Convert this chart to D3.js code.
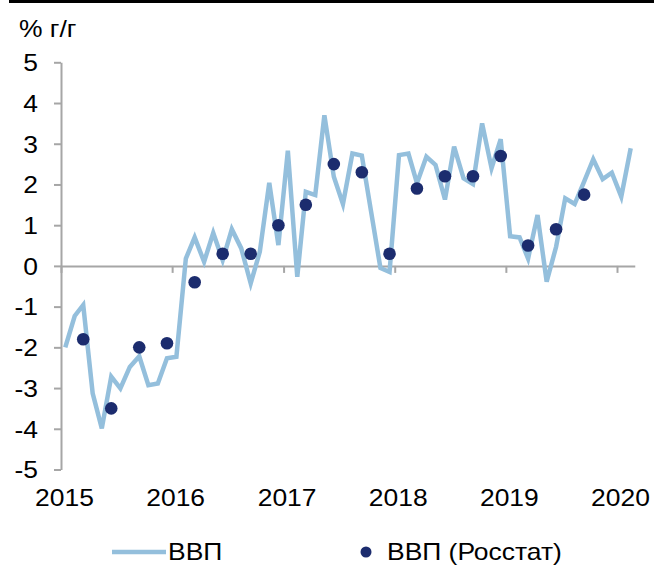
<!DOCTYPE html>
<html>
<head>
<meta charset="utf-8">
<script src="https://cdn.jsdelivr.net/npm/d3@7"></script>
<style>
  body { margin: 0; background: #fff; }
  svg text { font-family: "Liberation Sans", Arial, sans-serif; fill: #000; font-size: 23px; }
</style>
</head>
<body>
<div id="chart"></div>
<script>
// monthly GDP estimate, Jan 2015 .. Feb 2020
var gdpMonthly = [
  -2.0, -1.23, -0.96, -3.13, -3.99, -2.72, -3.01, -2.48, -2.22, -2.93, -2.89, -2.27,
  -2.23, 0.18, 0.70, 0.10, 0.81, 0.14, 0.90, 0.43, -0.43, 0.35, 2.04, 0.51,
  2.83, -0.27, 1.82, 1.74, 3.70, 2.19, 1.52, 2.76, 2.71, 1.35, -0.05, -0.15,
  2.72, 2.76, 2.03, 2.68, 2.48, 1.63, 2.93, 2.15, 2.01, 3.50, 2.40, 3.11,
  0.73, 0.70, 0.18, 1.25, -0.39, 0.47, 1.66, 1.52, 2.07, 2.62, 2.13, 2.29,
  1.70, 2.89
];
// quarterly Rosstat GDP, Q1 2015 .. Q3 2019
var gdpRosstat = [
  -1.8, -3.5, -2.0, -1.9,
  -0.4, 0.3, 0.3, 1.0,
  1.5, 2.5, 2.3, 0.3,
  1.9, 2.2, 2.2, 2.7,
  0.5, 0.9, 1.75
];
var yearTicks = [2015, 2016, 2017, 2018, 2019, 2020];
var yTicks = [-5, -4, -3, -2, -1, 0, 1, 2, 3, 4, 5];
var seriesNames = ["ВВП", "ВВП (Росстат)"];

var width = 654, height = 568;
var lineColor = "#94bfdc", dotColor = "#1c2c6e", axisColor = "#a6a6a6";
var textStretch = 1.15; // the source text is a bit wider than plain Arial

var svg = d3.select("#chart").append("svg")
    .attr("width", width)
    .attr("height", height);

// widen text around its own anchor point
function stretch(sel) {
  sel.each(function() {
    var t = d3.select(this);
    var tx = +t.attr("x") || 0;
    t.attr("x", 0)
     .attr("transform", "translate(" + tx + ",0) scale(" + textStretch + ",1)");
  });
}

// scales
var x = d3.scaleTime()
    .domain([new Date(2015, 0, 1), new Date(2020, 0, 1)])
    .range([61, 617]);
var y = d3.scaleLinear()
    .domain([-5, 5])
    .range([469.5, 62.3]);

// top black rule
svg.append("rect")
    .attr("x", 9).attr("y", 0)
    .attr("width", width - 9).attr("height", 3)
    .attr("fill", "#000");

// unit label
svg.append("text")
    .attr("x", 19).attr("y", 37)
    .text("% г/г")
    .call(stretch);

// y axis
var yAxis = svg.append("g")
    .attr("transform", "translate(" + x.range()[0] + ",0)")
    .call(d3.axisLeft(y)
      .tickValues(yTicks)
      .tickSize(7)
      .tickPadding(16)
      .tickSizeOuter(0)
      .tickFormat(function(d) { return d < 0 ? "-" + Math.abs(d) : d; }));
yAxis.selectAll("text").attr("font-size", null).attr("dy", "0.36em").call(stretch);

// x axis along zero line, ticks only
var xAxis = svg.append("g")
    .attr("transform", "translate(0," + y(0) + ")")
    .call(d3.axisBottom(x)
      .tickValues(yearTicks.map(function(d) { return new Date(d, 0, 1); }))
      .tickSize(7)
      .tickSizeOuter(0)
      .tickFormat(""));
xAxis.select(".domain").remove();
xAxis.append("line")
    .attr("x1", x.range()[0]).attr("x2", x(new Date(2020, 2, 1)))
    .attr("y1", 0.5).attr("y2", 0.5)
    .attr("stroke", axisColor).attr("stroke-width", 2);

// year labels at the bottom
var xLabels = svg.append("g")
    .attr("transform", "translate(3,490)")
    .call(d3.axisBottom(x)
      .tickValues(yearTicks.map(function(d) { return new Date(d, 0, 1); }))
      .tickSize(0)
      .tickPadding(0)
      .tickFormat(d3.timeFormat("%Y")));
xLabels.select(".domain").remove();
xLabels.selectAll("text").attr("dy", "0.71em").call(stretch);

svg.selectAll("g").attr("font-size", null).attr("font-family", null);
svg.selectAll(".tick line").attr("stroke", axisColor).attr("stroke-width", 2);
yAxis.select(".domain").attr("stroke", axisColor).attr("stroke-width", 2);

// monthly line
var monthly = gdpMonthly.map(function(v, i) {
  return { date: new Date(2015, i, 15), value: v };
});
var line = d3.line()
    .x(function(d) { return x(d.date); })
    .y(function(d) { return y(d.value); });

svg.append("path")
    .datum(monthly)
    .attr("fill", "none")
    .attr("stroke", lineColor)
    .attr("stroke-width", 4.5)
    .attr("stroke-linejoin", "miter")
    .attr("d", line);

// quarterly dots (placed at the last month of each quarter)
var quarterly = gdpRosstat.map(function(v, i) {
  return { date: new Date(2015, i * 3 + 2, 15), value: v };
});
svg.selectAll("circle.q")
    .data(quarterly)
    .enter().append("circle")
    .attr("class", "q")
    .attr("cx", function(d) { return x(d.date); })
    .attr("cy", function(d) { return y(d.value); })
    .attr("r", 6.3)
    .attr("fill", dotColor);

// legend
var legend = svg.append("g").attr("transform", "translate(0,552)");
legend.append("line")
    .attr("x1", 112).attr("x2", 166)
    .attr("y1", 0).attr("y2", 0)
    .attr("stroke", lineColor).attr("stroke-width", 4.5);
legend.append("text")
    .attr("x", 168).attr("y", 0).attr("dy", "0.36em")
    .text(seriesNames[0])
    .call(stretch);
legend.append("circle")
    .attr("cx", 366).attr("cy", 0).attr("r", 5.5)
    .attr("fill", dotColor);
legend.append("text")
    .attr("x", 387).attr("y", 0).attr("dy", "0.36em")
    .text(seriesNames[1])
    .call(stretch);
</script>
</body>
</html>
